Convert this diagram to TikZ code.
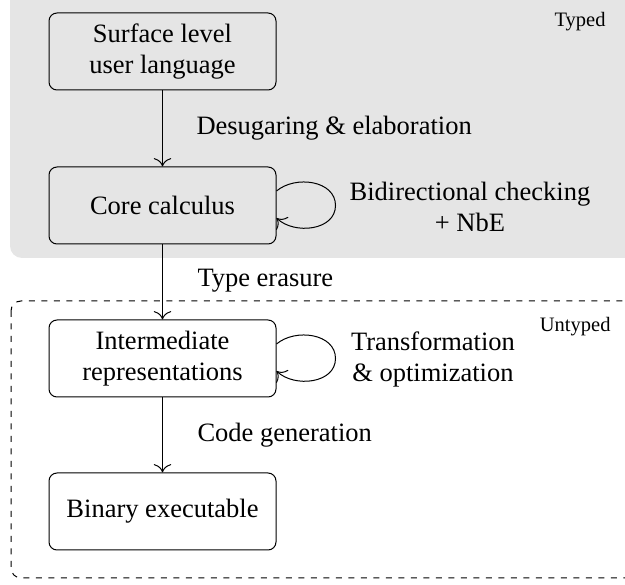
\documentclass[tikz,border=0pt]{standalone}
\usepackage{fontspec}
\setmainfont{Liberation Serif}
\usetikzlibrary{arrows.meta}
\begin{document}
\begin{tikzpicture}[x=1pt,y=-1pt, line width=1pt,
  stage/.style={draw, rounded corners=8pt, minimum width=227pt, minimum height=77pt,
    align=center, font=\fontsize{26.5}{31}\selectfont, inner sep=0pt},
  lbl/.style={font=\fontsize{26.5}{31}\selectfont, inner sep=0pt, align=center},
  zone/.style={font=\fontsize{20.5}{24}\selectfont, inner sep=0pt},
  arr/.style={-{To[scale=2.2]}},
  selfloop/.style={arr, rounded corners=0pt}]
\useasboundingbox (0,0) rectangle (625,585);
\clip (0,0) rectangle (625,585);
\fill[black!10, rounded corners=12pt] (10,-20) rectangle (645,258);
\draw[dash pattern=on 6pt off 6.5pt, rounded corners=10pt] (11,301) rectangle (645,578);

\node[stage] (b1) at (162.5,51.5) {Surface level\\user language};
\node[stage] (b2) at (162.5,205.5) {Core calculus};
\node[stage] (b3) at (162.5,358.5) {Intermediate\\representations};
\node[stage] (b4) at (162.5,511.5) {Binary executable};

\draw[arr] (b1) -- (b2);
\draw[arr] (b2) -- (b3);
\draw[arr] (b3) -- (b4);

\draw[selfloop] ([yshift=14.5pt]b2.east) .. controls +(19,-16) and +(0,-25) .. ([xshift=59pt]b2.east)
  .. controls +(0,25) and +(18,17) .. ([yshift=-12.5pt]b2.east);
\draw[selfloop] ([yshift=14.5pt]b3.east) .. controls +(19,-16) and +(0,-25) .. ([xshift=59pt]b3.east)
  .. controls +(0,25) and +(18,17) .. ([yshift=-12.5pt]b3.east);

\node[lbl, anchor=base west] (l1) at (196,135) {Desugaring \& elaboration};
\node[lbl, anchor=base west] (l2) at (197,287) {Type erasure};
\node[lbl, anchor=base west] (l3) at (197,442) {Code generation};
\node[lbl] (l4) at (470,206.5) {Bidirectional checking\\+ NbE};
\node[lbl] (l5) at (433,359) {Transformation\\\& optimization};
\node[zone, anchor=base east] (t1) at (606,27) {Typed};
\node[zone, anchor=base east] (t2) at (611,332) {Untyped};
\end{tikzpicture}
\end{document}
